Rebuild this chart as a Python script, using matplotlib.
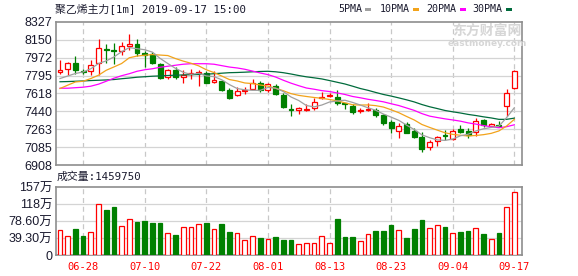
import matplotlib
matplotlib.use("Agg")
import matplotlib.pyplot as plt
from matplotlib.patches import Rectangle
import numpy as np

# ---------------- data ----------------
dates = ["06-25", "06-26", "06-27", "06-28", "07-01", "07-02", "07-03", "07-04", "07-05", "07-08",
         "07-09", "07-10", "07-11", "07-12", "07-15", "07-16", "07-17", "07-18", "07-19", "07-22",
         "07-23", "07-24", "07-25", "07-26", "07-29", "07-30", "07-31", "08-01", "08-02", "08-05",
         "08-06", "08-07", "08-08", "08-09", "08-12", "08-13", "08-14", "08-15", "08-16", "08-19",
         "08-20", "08-21", "08-22", "08-23", "08-26", "08-27", "08-28", "08-29", "08-30", "09-02",
         "09-03", "09-04", "09-05", "09-06", "09-09", "09-10", "09-11", "09-12", "09-16", "09-17"]

open_ = [7833, 7861, 7925, 7838, 7838, 7925, 8063, 8051, 8040, 8093,
         8111, 8020, 8014, 7908, 7782, 7848, 7779, 7807, 7821, 7825,
         7729, 7742, 7650, 7598, 7645, 7667, 7726, 7650, 7690, 7601,
         7467, 7452, 7457, 7475, 7573, 7593, 7578, 7519, 7495, 7440,
         7454, 7452, 7409, 7336, 7247, 7313, 7247, 7181, 7082, 7148,
         7209, 7162, 7264, 7244, 7234, 7350, 7296, 7308, 7495, 7673]
high = [7947, 7931, 7987, 7865, 7954, 8156, 8106, 8123, 8129, 8212,
        8162, 8037, 8030, 7921, 7865, 7881, 7848, 7865, 7848, 7841,
        7838, 7756, 7673, 7683, 7683, 7766, 7739, 7726, 7716, 7623,
        7518, 7485, 7518, 7568, 7633, 7623, 7650, 7528, 7511, 7469,
        7524, 7475, 7419, 7353, 7320, 7336, 7271, 7237, 7155, 7194,
        7254, 7267, 7303, 7280, 7370, 7360, 7326, 7346, 7667, 7848]
low = [7809, 7799, 7809, 7809, 7806, 7806, 7921, 7915, 8004, 8047,
       7987, 7881, 7915, 7766, 7766, 7762, 7717, 7762, 7693, 7717,
       7722, 7640, 7561, 7594, 7617, 7660, 7633, 7633, 7601, 7475,
       7392, 7412, 7445, 7452, 7561, 7578, 7502, 7462, 7419, 7425,
       7445, 7380, 7303, 7227, 7177, 7221, 7171, 7039, 7056, 7098,
       7155, 7155, 7227, 7171, 7194, 7284, 7284, 7286, 7395, 7660]
close = [7853, 7921, 7848, 7829, 7905, 8073, 8053, 8042, 8086, 8113,
         8020, 8000, 7921, 7776, 7855, 7782, 7806, 7817, 7830, 7722,
         7749, 7650, 7574, 7640, 7655, 7726, 7650, 7713, 7610, 7485,
         7457, 7475, 7467, 7538, 7583, 7603, 7524, 7509, 7429, 7450,
         7464, 7402, 7326, 7271, 7293, 7227, 7181, 7062, 7132, 7181,
         7199, 7247, 7234, 7204, 7346, 7300, 7316, 7298, 7627, 7838]

# volume in 万 (10k lots)
volume_wan = [56.7, 45.0, 60.0, 44.0, 54.0, 117.0, 103.5, 110.0, 68.0, 84.0,
              76.0, 78.0, 73.6, 73.6, 52.0, 46.0, 63.6, 63.6, 72.8, 73.6,
              59.0, 71.3, 52.9, 52.0, 33.7, 45.0, 39.0, 36.0, 41.4, 34.5,
              34.5, 24.5, 27.6, 26.8, 45.0, 26.8, 82.8, 41.4, 41.4, 31.4,
              47.5, 55.2, 55.2, 69.0, 57.5, 39.0, 59.8, 80.5, 61.3, 68.2,
              64.4, 49.8, 52.9, 55.2, 61.3, 48.3, 36.8, 50.6, 112.0, 145.975]

ma5 = [7766, 7791, 7816, 7831, 7863, 7915, 7941, 7980, 8032, 8073,
       8062, 8052, 8028, 7966, 7915, 7867, 7828, 7807, 7818, 7792,
       7785, 7754, 7706, 7667, 7654, 7649, 7649, 7677, 7671, 7637,
       7583, 7548, 7498, 7485, 7503, 7533, 7543, 7551, 7529, 7503,
       7476, 7451, 7414, 7383, 7351, 7304, 7260, 7207, 7179, 7157,
       7152, 7165, 7198, 7213, 7246, 7267, 7281, 7293, 7378, 7476]
ma10 = [7667, 7700, 7732, 7739, 7766, 7799, 7848, 7881, 7915, 7972,
        7989, 7997, 8004, 7999, 7994, 7964, 7939, 7918, 7892, 7853,
        7825, 7791, 7756, 7742, 7722, 7716, 7702, 7691, 7669, 7645,
        7616, 7599, 7588, 7578, 7570, 7558, 7545, 7525, 7506, 7503,
        7504, 7497, 7483, 7456, 7427, 7390, 7355, 7310, 7281, 7254,
        7228, 7212, 7203, 7196, 7201, 7209, 7222, 7246, 7295, 7361]
ma20 = [7670, 7670, 7675, 7680, 7690, 7710, 7739, 7769, 7794, 7814,
        7838, 7853, 7863, 7878, 7888, 7898, 7908, 7913, 7913, 7913,
        7908, 7894, 7880, 7871, 7858, 7840, 7821, 7805, 7781, 7749,
        7720, 7695, 7672, 7660, 7646, 7637, 7623, 7608, 7588, 7575,
        7560, 7548, 7535, 7516, 7498, 7474, 7450, 7418, 7393, 7379,
        7366, 7355, 7343, 7326, 7314, 7299, 7288, 7278, 7288, 7307]
ma30 = [7734, 7736, 7739, 7742, 7746, 7749, 7752, 7756, 7764, 7771,
        7779, 7784, 7789, 7792, 7796, 7799, 7802, 7804, 7806, 7809,
        7814, 7819, 7824, 7826, 7829, 7833, 7836, 7838, 7833, 7824,
        7811, 7796, 7783, 7773, 7762, 7746, 7729, 7712, 7690, 7667,
        7649, 7628, 7608, 7592, 7574, 7555, 7534, 7508, 7486, 7468,
        7449, 7436, 7424, 7410, 7399, 7386, 7375, 7361, 7361, 7373]

price_ticks = [6908, 7085, 7263, 7440, 7618, 7795, 7972, 8150, 8327]
vol_ticks = [0, 39.3, 78.6, 117.9, 157.2]
vol_tick_labels = ["0", "39.30万", "78.60万", "118万", "157万"]
label_dates = ["06-28", "07-10", "07-22", "08-01", "08-13", "08-23", "09-04", "09-17"]
last_volume = 1459750
title_text = "聚乙烯主力[1m] 2019-09-17 15:00"
ma_names = ["5PMA", "10PMA", "20PMA", "30PMA"]

# ---------------- style ----------------
RED = "#ff0000"
GREEN = "#008000"
MA_COLORS = ["#a0a0a0", "#f2a31b", "#ff00ff", "#006b3c"]
GRID = "#d4d4d4"
SPINE = "#8e8e8e"
TXT = "#1a1a2e"

W, H = 578, 276
fig = plt.figure(figsize=(W / 100, H / 100), dpi=100)
fig.patch.set_facecolor("white")


def rect(l, t, r, b):
    return [l / W, 1 - b / H, (r - l) / W, (b - t) / H]


ax = fig.add_axes(rect(56, 22, 522, 165))
axv = fig.add_axes(rect(56, 187, 522, 255))

n = len(dates)
x = np.arange(n)
o = np.array(open_, float)
c = np.array(close, float)
hi = np.array(high, float)
lo = np.array(low, float)
up = c >= o
label_idx = [dates.index(d) for d in label_dates]

for a in (ax, axv):
    a.set_xlim(-0.52, n - 1 + 1.0)
    for s in a.spines.values():
        s.set_color(SPINE)
        s.set_linewidth(1.2)
    for i in label_idx:
        a.axvline(i, color="#c8c8c8", lw=0.9, ls=(0, (4, 3)), zorder=0)
    a.tick_params(axis="both", length=0, colors=TXT)

# price panel
ax.set_ylim(price_ticks[0], price_ticks[-1])
ax.set_yticks(price_ticks)
ax.set_yticklabels([str(t) for t in price_ticks], fontsize=9, family="Liberation Sans", color=TXT)
ax.tick_params(axis="y", pad=2.5)
ax.set_xticks([])
for t in price_ticks[1:-1]:
    ax.axhline(t, color=GRID, lw=0.9, zorder=0)

bw = 0.64
body_lo = np.minimum(o, c)
body_hi = np.maximum(o, c)
body_h = np.maximum(body_hi - body_lo, 1.5)
cols = np.where(up, RED, GREEN)
ax.vlines(x, hi, body_hi, colors=cols, lw=0.9, zorder=2)
ax.vlines(x, lo, body_lo, colors=cols, lw=0.9, zorder=2)
ax.bar(x[up], body_h[up], bottom=body_lo[up], width=bw, facecolor="white",
       edgecolor=RED, linewidth=0.9, zorder=3)
ax.bar(x[~up], body_h[~up], bottom=body_lo[~up], width=bw, facecolor=GREEN,
       edgecolor=GREEN, linewidth=0.9, zorder=3)

for vals, col in zip([ma30, ma20, ma10, ma5], MA_COLORS[::-1]):
    ax.plot(x, vals, color=col, lw=0.9, zorder=4, drawstyle="default")

# volume panel
vol = np.array(volume_wan, float)
axv.set_ylim(vol_ticks[0], vol_ticks[-1])
axv.set_yticks(vol_ticks)
axv.set_yticklabels(vol_tick_labels, fontsize=9, family=["Liberation Sans", "Noto Sans CJK SC"], color=TXT)
axv.tick_params(axis="y", pad=2.5)
for t in vol_ticks[1:-1]:
    axv.axhline(t, color=GRID, lw=0.9, zorder=0)
vw = 0.6
axv.bar(x[up], vol[up], width=vw, facecolor="white", edgecolor=RED, linewidth=0.9, zorder=3)
axv.bar(x[~up], vol[~up], width=vw, facecolor=GREEN, edgecolor=GREEN, linewidth=0.9, zorder=3)
axv.set_xticks(label_idx)
axv.set_xticklabels(label_dates, fontsize=7.5, family="DejaVu Sans Mono", color=RED)
axv.tick_params(axis="x", pad=5)

# texts
fig.text(55 / W, 1 - 8.5 / H, title_text, fontsize=7.8,
         family=["DejaVu Sans Mono", "Noto Sans CJK SC"], color=TXT, va="center", ha="left")
fig.text(57 / W, 1 - 177 / H, "成交量:" + str(last_volume), fontsize=7.8,
         family=["DejaVu Sans Mono", "Noto Sans CJK SC"], color=TXT, va="center", ha="left")

lx = [338, 380, 426, 472]
sx = [365, 413, 460, 506]
for name, col, tx, qx in zip(ma_names, MA_COLORS, lx, sx):
    fig.text(tx / W, 1 - 8.5 / H, name, fontsize=7.2, family="DejaVu Sans Mono",
             color=TXT, va="center", ha="left")
    fig.add_artist(Rectangle((qx / W, 1 - 11 / H), 5.5 / W, 3 / H, transform=fig.transFigure,
                             facecolor=col, edgecolor="none"))

# watermark
fig.text(487 / W, 1 - 31 / H, "东方财富网", fontsize=10, family="Noto Sans CJK SC",
         fontweight="bold", color="#d6d6d6", ha="center", va="center", zorder=1)
fig.text(487 / W, 1 - 43 / H, "eastmoney.com", fontsize=6.5, family="DejaVu Sans",
         fontweight="bold", color="#d6d6d6", ha="center", va="center", zorder=1)

fig.savefig("out.png", dpi=100, facecolor="white")
